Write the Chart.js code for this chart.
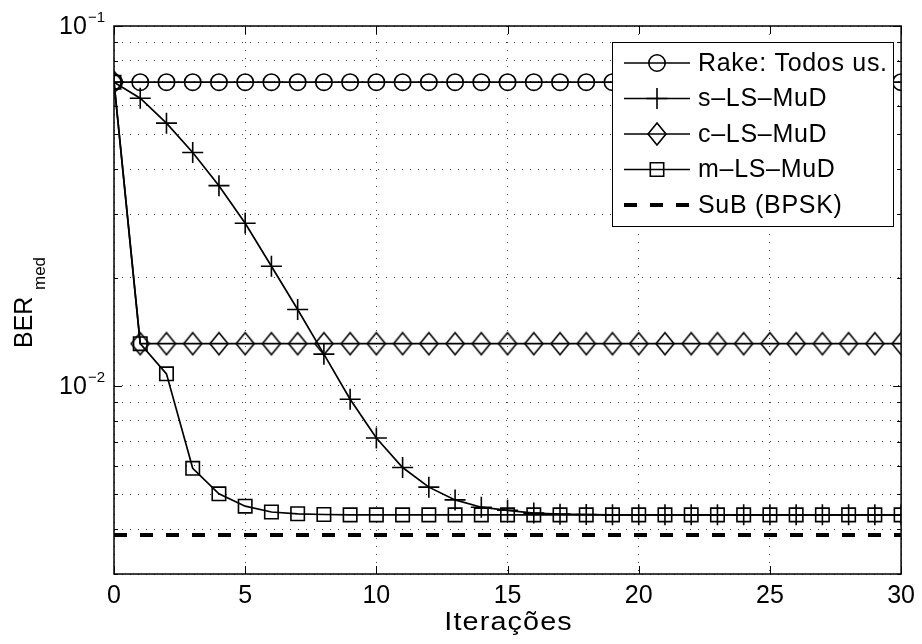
<!DOCTYPE html>
<html>
<head>
<meta charset="utf-8">
<script src="https://cdn.jsdelivr.net/npm/chart.js@4.4.0/dist/chart.umd.min.js"></script>
<style>
  html, body { margin: 0; padding: 0; background: #fff; }
  canvas { display: block; }
</style>
</head>
<body>
<canvas id="berChart" width="922" height="644"></canvas>
<script>
// Iterations (x axis)
const iteracoes = [0, 1, 2, 3, 4, 5, 6, 7, 8, 9, 10, 11, 12, 13, 14, 15,
  16, 17, 18, 19, 20, 21, 22, 23, 24, 25, 26, 27, 28, 29, 30];

// BER values
const rake = [0.0698, 0.0698, 0.0698, 0.0698, 0.0698, 0.0698, 0.0698, 0.0698,
  0.0698, 0.0698, 0.0698, 0.0698, 0.0698, 0.0698, 0.0698, 0.0698, 0.0698,
  0.0698, 0.0698, 0.0698, 0.0698, 0.0698, 0.0698, 0.0698, 0.0698, 0.0698,
  0.0698, 0.0698, 0.0698, 0.0698, 0.0698];
const sLS = [0.0698, 0.0630, 0.0537, 0.0445, 0.0360, 0.0283, 0.0215, 0.0163,
  0.01225, 0.00918, 0.00716, 0.00593, 0.00523, 0.00482, 0.00460, 0.00451,
  0.00443, 0.00440, 0.00439, 0.00438, 0.00438, 0.00438, 0.00438, 0.00438,
  0.00438, 0.00438, 0.00438, 0.00438, 0.00438, 0.00438, 0.00438];
const cLS = [0.0698, 0.0131, 0.0131, 0.0131, 0.0131, 0.0131, 0.0131, 0.0131,
  0.0131, 0.0131, 0.0131, 0.0131, 0.0131, 0.0131, 0.0131, 0.0131, 0.0131,
  0.0131, 0.0131, 0.0131, 0.0131, 0.0131, 0.0131, 0.0131, 0.0131, 0.0131,
  0.0131, 0.0131, 0.0131, 0.0131, 0.0131];
const mLS = [0.0698, 0.0131, 0.0108, 0.00590, 0.00501, 0.00463, 0.00446,
  0.00441, 0.00439, 0.00438, 0.00438, 0.00438, 0.00438, 0.00438, 0.00438,
  0.00438, 0.00438, 0.00438, 0.00438, 0.00438, 0.00438, 0.00438, 0.00438,
  0.00438, 0.00438, 0.00438, 0.00438, 0.00438, 0.00438, 0.00438, 0.00438];
const subBPSK = [0.00385, 0.00385, 0.00385, 0.00385, 0.00385, 0.00385, 0.00385,
  0.00385, 0.00385, 0.00385, 0.00385, 0.00385, 0.00385, 0.00385, 0.00385,
  0.00385, 0.00385, 0.00385, 0.00385, 0.00385, 0.00385, 0.00385, 0.00385,
  0.00385, 0.00385, 0.00385, 0.00385, 0.00385, 0.00385, 0.00385, 0.00385];

const seriesNames = ['Rake: Todos us.', 's\u2013LS\u2013MuD', 'c\u2013LS\u2013MuD', 'm\u2013LS\u2013MuD', 'SuB (BPSK)'];
const xTitle = 'Iterações';

// axis ticks
const xTicks = [0, 5, 10, 15, 20, 25, 30];
const yDecades = [0.01, 0.1];
const yDecadeExp = ['\u22122', '\u22121'];
const yMin = 0.003, yMax = 0.1;

const FONT = '"Liberation Sans", Arial, Helvetica, sans-serif';

// log grid: every 1..9 x 10^e inside the range
const yGrid = [];
for (let e = -3; e <= -1; e++) {
  for (let m = 1; m <= 9; m++) {
    const v = +(m * Math.pow(10, e)).toPrecision(6);
    if (v >= yMin && v <= yMax) yGrid.push(v);
  }
}

function diamondImage(w, h, lw) {
  const c = document.createElement('canvas');
  c.width = w + 4; c.height = h + 4;
  const g = c.getContext('2d');
  g.strokeStyle = '#000';
  g.lineWidth = lw;
  g.beginPath();
  g.moveTo(c.width / 2, 2);
  g.lineTo(c.width - 2, c.height / 2);
  g.lineTo(c.width / 2, c.height - 2);
  g.lineTo(2, c.height / 2);
  g.closePath();
  g.stroke();
  return c;
}
const diamond = diamondImage(18, 22, 1.6);

const toXY = arr => iteracoes.map((x, i) => ({ x: x, y: arr[i] }));

const base = {
  borderColor: '#000',
  backgroundColor: 'rgba(0,0,0,0)',
  borderWidth: 1.7,
  pointBorderColor: '#000',
  pointBackgroundColor: 'rgba(0,0,0,0)',
  pointBorderWidth: 1.6,
  tension: 0,
  fill: false
};

// marker shapes for the legend
function drawMarker(ctx, kind, x, y) {
  ctx.save();
  ctx.strokeStyle = '#000';
  ctx.lineWidth = 1.6;
  ctx.beginPath();
  if (kind === 'circle') {
    ctx.arc(x, y, 8.2, 0, Math.PI * 2);
  } else if (kind === 'cross') {
    ctx.moveTo(x - 10.5, y); ctx.lineTo(x + 10.5, y);
    ctx.moveTo(x, y - 10.5); ctx.lineTo(x, y + 10.5);
  } else if (kind === 'diamond') {
    ctx.moveTo(x, y - 11); ctx.lineTo(x + 9, y); ctx.lineTo(x, y + 11); ctx.lineTo(x - 9, y); ctx.closePath();
  } else if (kind === 'rect') {
    ctx.rect(x - 6.7, y - 6.7, 13.4, 13.4);
  }
  ctx.stroke();
  ctx.restore();
}

const legendMarkers = ['circle', 'cross', 'diamond', 'rect', 'dash'];

const matlabAxes = {
  id: 'matlabAxes',
  afterDatasetsDraw(chart) {
    // legend box
    const ctx = chart.ctx;
    const lx = 612, ly = 42, lw = 281, lh = 184;
    ctx.save();
    ctx.fillStyle = '#fff';
    ctx.fillRect(lx, ly, lw, lh);
    ctx.strokeStyle = '#000';
    ctx.lineWidth = 1;
    ctx.strokeRect(lx + 0.5, ly + 0.5, lw, lh);
    ctx.font = '25px ' + FONT;
    ctx.letterSpacing = '0.7px';
    ctx.fillStyle = '#000';
    ctx.textBaseline = 'middle';
    ctx.textAlign = 'left';
    for (let i = 0; i < seriesNames.length; i++) {
      const y = 63 + i * 35.5;
      ctx.beginPath();
      if (legendMarkers[i] === 'dash') {
        ctx.lineWidth = 4;
        ctx.setLineDash([13, 13]);
      } else {
        ctx.lineWidth = 1.7;
        ctx.setLineDash([]);
      }
      ctx.moveTo(624, y);
      ctx.lineTo(690, y);
      ctx.stroke();
      ctx.setLineDash([]);
      if (legendMarkers[i] !== 'dash') drawMarker(ctx, legendMarkers[i], 657, y);
      ctx.fillText(seriesNames[i], 698, y + 1);
    }
    ctx.letterSpacing = '0px';
    ctx.restore();
  },
  afterDraw(chart) {
    const ctx = chart.ctx;
    const a = chart.chartArea;
    const xs = chart.scales.x, ys = chart.scales.y;
    ctx.save();
    ctx.strokeStyle = '#000';
    ctx.lineWidth = 1.5;
    ctx.strokeRect(a.left, a.top, a.right - a.left, a.bottom - a.top);
    // inward ticks
    ctx.lineWidth = 1;
    ctx.beginPath();
    xTicks.forEach(v => {
      const px = Math.round(xs.getPixelForValue(v)) + 0.5;
      ctx.moveTo(px, a.bottom); ctx.lineTo(px, a.bottom - 8);
      ctx.moveTo(px, a.top); ctx.lineTo(px, a.top + 8);
    });
    yGrid.forEach(v => {
      const py = Math.round(ys.getPixelForValue(v)) + 0.5;
      const len = yDecades.includes(v) ? 8 : 4;
      ctx.moveTo(a.left, py); ctx.lineTo(a.left + len, py);
      ctx.moveTo(a.right, py); ctx.lineTo(a.right - len, py);
    });
    ctx.stroke();

    // y decade labels 10^e
    ctx.fillStyle = '#000';
    yDecades.forEach((v, i) => {
      const py = ys.getPixelForValue(v);
      ctx.font = '15px ' + FONT;
      ctx.textAlign = 'left';
      ctx.textBaseline = 'alphabetic';
      const ew = ctx.measureText(yDecadeExp[i]).width;
      const expX = a.left - 9 - ew;
      ctx.fillText(yDecadeExp[i], expX, py - 4);
      ctx.font = '25px ' + FONT;
      ctx.textAlign = 'right';
      ctx.textBaseline = 'middle';
      ctx.fillText('10', expX - 1, py + 1);
    });

    // x axis title (slightly wide glyphs as in the original)
    ctx.save();
    ctx.translate((a.left + a.right) / 2 + 1, 630);
    ctx.scale(1.15, 1);
    ctx.font = '25px ' + FONT;
    ctx.letterSpacing = '1px';
    ctx.textAlign = 'center';
    ctx.textBaseline = 'alphabetic';
    ctx.fillText(xTitle, 0, 0);
    ctx.letterSpacing = '0px';
    ctx.restore();

    // y axis title BER_med
    ctx.save();
    ctx.translate(32, 348);
    ctx.rotate(-Math.PI / 2);
    ctx.textAlign = 'left';
    ctx.textBaseline = 'alphabetic';
    ctx.font = '25px ' + FONT;
    ctx.fillText('BER', 0, 0);
    ctx.font = '17px ' + FONT;
    ctx.fillText('med', 58, 13);
    ctx.restore();
    ctx.restore();
  }
};

new Chart(document.getElementById('berChart'), {
  type: 'line',
  data: {
    datasets: [
      Object.assign({}, base, { label: seriesNames[0], data: toXY(rake), pointStyle: 'circle', pointRadius: 8.2 }),
      Object.assign({}, base, { label: seriesNames[1], data: toXY(sLS), pointStyle: 'cross', pointRadius: 10.5 }),
      Object.assign({}, base, { label: seriesNames[2], data: toXY(cLS), pointStyle: diamond, pointRadius: 10 }),
      Object.assign({}, base, { label: seriesNames[3], data: toXY(mLS), pointStyle: 'rect', pointRadius: 9.5 }),
      Object.assign({}, base, { label: seriesNames[4], data: toXY(subBPSK), pointRadius: 0, borderWidth: 4, borderDash: [13, 13] })
    ]
  },
  options: {
    responsive: false,
    devicePixelRatio: 1,
    animation: false,
    layout: { padding: { top: 26, right: 17, bottom: 0, left: 0 } },
    plugins: { legend: { display: false }, tooltip: { enabled: false } },
    scales: {
      x: {
        type: 'linear',
        min: 0,
        max: 30,
        afterBuildTicks: s => { s.ticks = xTicks.map(v => ({ value: v })); },
        afterFit: s => { s.height = 70; },
        ticks: { color: '#000', font: { family: FONT, size: 25 }, padding: 7, maxRotation: 0 },
        grid: { color: 'rgba(0,0,0,0.75)', lineWidth: 1, drawTicks: false },
        border: { display: false, dash: [1, 7] }
      },
      y: {
        type: 'logarithmic',
        min: yMin,
        max: yMax,
        afterBuildTicks: s => { s.ticks = yGrid.map(v => ({ value: v })); },
        afterFit: s => { s.width = 114; },
        ticks: { display: false },
        grid: { color: 'rgba(0,0,0,0.75)', lineWidth: 1, drawTicks: false },
        border: { display: false, dash: [1, 7] }
      }
    }
  },
  plugins: [matlabAxes]
});
</script>
</body>
</html>
